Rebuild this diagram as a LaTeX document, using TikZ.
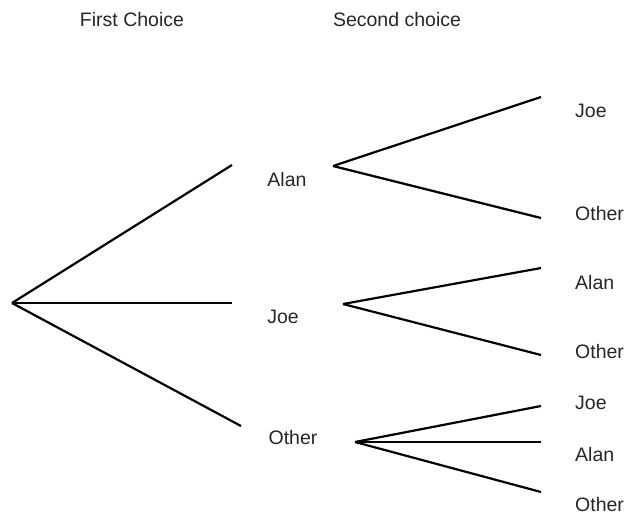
\documentclass[tikz,border=0pt]{standalone}
\usepackage{fontspec}
\setmainfont{Liberation Sans}
\begin{document}
\begin{tikzpicture}[x=1pt, y=-1pt,
    lbl/.style={font=\fontsize{19.5}{21}\selectfont, text=black!85, inner sep=0pt},
    leaf/.style={lbl, anchor=west}]
    \useasboundingbox (0,0) rectangle (629,517);
    \node[lbl] (h1) at (132,20) {First Choice};
    \node[lbl] (h2) at (397,20) {Second choice};
    % first choice
    \coordinate (0) at (12,303);
    \coordinate (A) at (232,165);
    \coordinate (J) at (232,303);
    \coordinate (O) at (241,426);
    \node[lbl] (Alan) at (287,180) {Alan};
    \node[lbl] (Joe) at (283,317) {Joe};
    \node[lbl] (Other) at (293,438) {Other};
    % second choice
    \coordinate (A0) at (333,166);
    \coordinate (J0) at (343,304);
    \coordinate (O0) at (355,442);
    \coordinate (A1) at (541,97);
    \coordinate (A2) at (541,218);
    \coordinate (J1) at (541,268);
    \coordinate (J2) at (541,355);
    \coordinate (O1) at (541,406);
    \coordinate (O2) at (541,442);
    \coordinate (O3) at (541,492);
    \node[leaf] (A1t) at (575,111) {Joe};
    \node[leaf] (A2t) at (575,214) {Other};
    \node[leaf] (J1t) at (575,283) {Alan};
    \node[leaf] (J2t) at (575,352) {Other};
    \node[leaf] (O1t) at (575,403) {Joe};
    \node[leaf] (O2t) at (575,455) {Alan};
    \node[leaf] (O3t) at (575,505) {Other};
    \draw[line width=2.2pt]
    (0) edge (A)
    (0) edge (J)
    (0) edge (O)
    (A0) edge (A1)
    (A0) edge (A2)
    (J0) edge (J1)
    (J0) edge (J2)
    (O0) edge (O1)
    (O0) edge (O2)
    (O0) edge (O3)
;

\end{tikzpicture}
\end{document}
